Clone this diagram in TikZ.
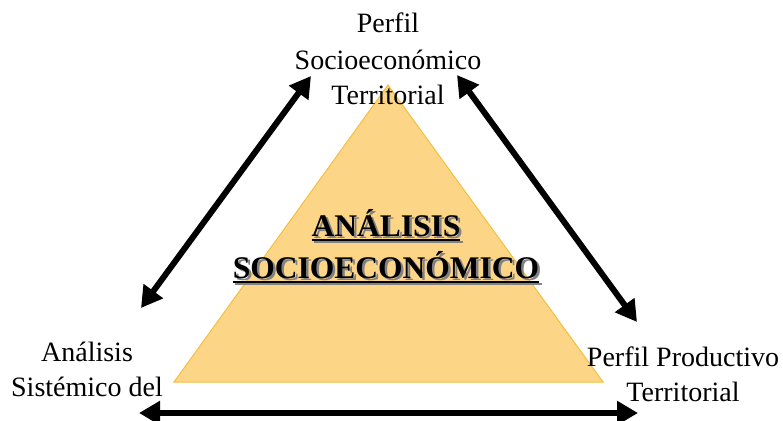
\documentclass[tikz,border=0pt]{standalone}
\usepackage{fontspec}
\setmainfont{Liberation Serif}
\usetikzlibrary{arrows.meta}
\definecolor{trifill}{RGB}{253,213,135}
\definecolor{triedge}{RGB}{245,190,60}
\definecolor{shadowgray}{RGB}{130,130,130}
\tikzset{
  lbl/.style={font=\fontsize{28}{28}\selectfont, inner sep=0pt, anchor=base},
  ttl/.style={font=\fontsize{31.5}{31.5}\selectfont\bfseries, inner sep=0pt, anchor=base},
  bigarrow/.style={line width=6pt, {Triangle[length=21pt,width=23pt]}-{Triangle[length=21pt,width=23pt]}},
}
\newcommand{\myul}[1]{\setbox0\hbox{#1}\rlap{\rule[-4.5pt]{\wd0}{2pt}}\box0}
\newcommand{\shadowed}[1]{\rlap{\kern2.5pt\raisebox{-2.5pt}{\color{shadowgray}\myul{#1}}}\myul{#1}}
\begin{document}
\begin{tikzpicture}[x=1pt,y=-1pt]
\useasboundingbox (0,0) rectangle (783,420);
% triangle
\draw[fill=trifill, draw=triedge, line width=1pt] (388,85) coordinate (apex) -- (174,382) coordinate (bl) -- (603,382) coordinate (br) -- cycle;
% top label
\node[lbl] (top1) at (388,33) {Perfil};
\node[lbl] (top2) at (388,70) {Socioeconómico};
\node[lbl] (top3) at (388,104) {Territorial};
% left label
\node[lbl] (left1) at (87,361) {Análisis};
\node[lbl] (left2) at (87,396) {Sistémico del};
% right label
\node[lbl] (right1) at (683,366) {Perfil Productivo};
\node[lbl] (right2) at (683,401) {Territorial};
% centre title with shadow
\node[ttl] (c1) at (386,236) {\shadowed{ANÁLISIS}};
\node[ttl] (c2) at (386,278) {\shadowed{SOCIOECONÓMICO}};
% arrow ends
\coordinate (aL1) at (141,308);
\coordinate (aL2) at (311,76);
\coordinate (aR1) at (457,75);
\coordinate (aR2) at (637,322);
\coordinate (aB1) at (139,413);
\coordinate (aB2) at (638,413);
\draw[bigarrow] (aL1) -- (aL2);
\draw[bigarrow] (aR1) -- (aR2);
\draw[bigarrow] (aB1) -- (aB2);
\end{tikzpicture}
\end{document}
